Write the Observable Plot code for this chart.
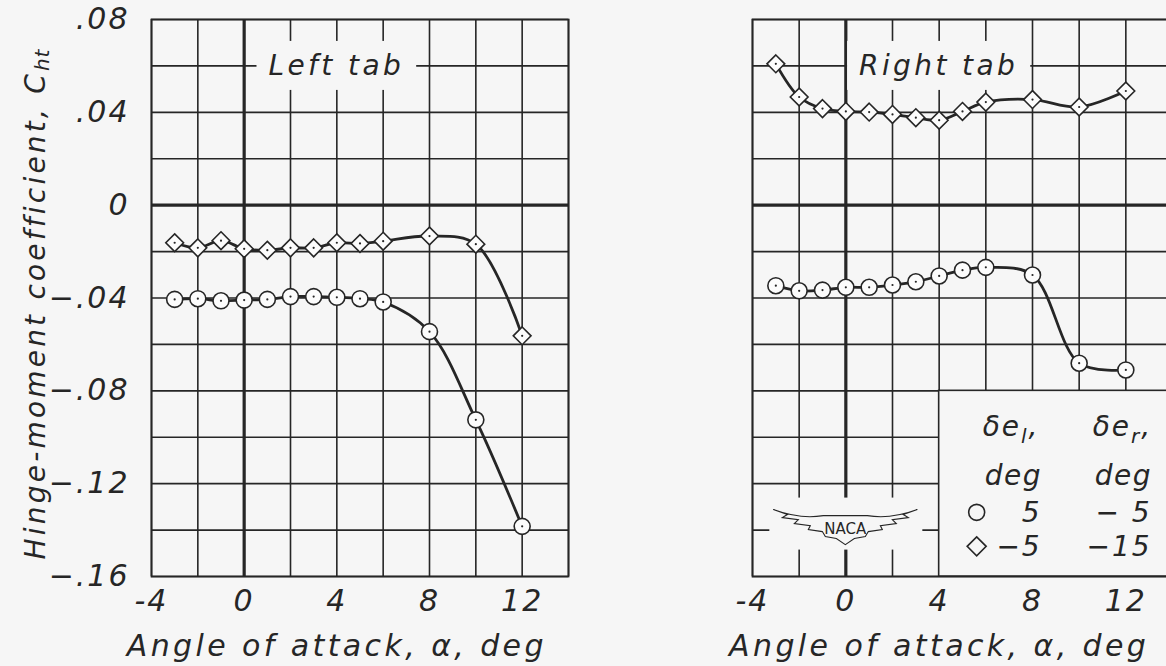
<!DOCTYPE html>
<html><head><meta charset="utf-8">
<script src="https://cdn.jsdelivr.net/npm/d3@7"></script>
<script src="https://cdn.jsdelivr.net/npm/@observablehq/plot@0.6"></script>
<style>
html,body{margin:0;padding:0;background:#f6f6f6;overflow:hidden}
#wrap{position:relative;width:1166px;height:666px;overflow:hidden;background:#f6f6f6}
#left{position:absolute;left:0;top:0;width:600px;height:666px}
#right{position:absolute;left:600px;top:0;width:600px;height:666px}
#left svg,#right svg{max-width:none !important;width:600px;height:666px}
</style></head>
<body><div id="wrap"><div id="left"></div><div id="right"></div></div>
<script>
// ---- data ----
const alphaDeg = [-3, -2, -1, 0, 1, 2, 3, 4, 5, 6, 8, 10, 12];
const leftTabCircle  = [-0.0406, -0.0403, -0.0412, -0.0409, -0.0406, -0.0394, -0.0394, -0.0397, -0.0403, -0.0417, -0.0545, -0.0925, -0.1384];
const leftTabDiamond = [-0.0162, -0.0184, -0.0153, -0.0188, -0.0194, -0.0184, -0.0184, -0.0162, -0.0165, -0.0155, -0.0133, -0.0168, -0.0563];
const rightTabCircle = [-0.0347, -0.0369, -0.0366, -0.0354, -0.0354, -0.0344, -0.0330, -0.0305, -0.0280, -0.0268, -0.0301, -0.0681, -0.0710];
const rightTabDiamond = [0.0609, 0.0466, 0.0416, 0.0404, 0.0401, 0.0391, 0.0377, 0.0366, 0.0404, 0.0444, 0.0455, 0.0423, 0.0492];
const xGridTicks = [-4, -2, 0, 2, 4, 6, 8, 10, 12, 14];
const yGridTicks = [-0.16, -0.14, -0.12, -0.10, -0.08, -0.06, -0.04, -0.02, 0, 0.02, 0.04, 0.06, 0.08];
const xTickLabels = [-4, 0, 4, 8, 12];
const yTickLabels = [-0.16, -0.12, -0.08, -0.04, 0, 0.04, 0.08];
const panelTitles = [{text: "Left tab", alpha: 4, ch: 0.06}, {text: "Right tab", alpha: 4, ch: 0.06}];
const xTitle = "Angle of attack, \u03b1, deg";
const yTitle = "Hinge-moment coefficient, C";
const yTitleSub = "ht";
const legendHeaders = [{sym: "\u03b4e", sub: "l"}, {sym: "\u03b4e", sub: "r"}];
const legendRows = [{shape: "circle", left: "5", right: "\u2212 5"}, {shape: "diamond", left: "\u22125", right: "\u221215"}];

// ---- style ----
const INK = "#262626";
const BG = "#f6f6f6";
const FONT = "'DejaVu Sans', sans-serif";
const NS = "http://www.w3.org/2000/svg";

function rows(ys, shape) { return alphaDeg.map((a, i) => ({alpha: a, ch: ys[i], shape})); }
const fmtY = d => d === 0 ? "0" : (d < 0 ? "\u2212" : "") + Math.abs(d).toFixed(2).replace(/^0/, "");

function makePanel(cfg) {
  const circ = rows(cfg.circle, "circle");
  const diam = rows(cfg.diamond, "diamond");
  const all = circ.concat(diam);
  const marks = [
    Plot.gridX(xGridTicks, {stroke: INK, strokeOpacity: 1, strokeWidth: 1.6}),
    Plot.gridY(yGridTicks, {stroke: INK, strokeOpacity: 1, strokeWidth: 1.6}),
    Plot.ruleX([0], {stroke: INK, strokeWidth: 3.2}),
    Plot.ruleY([0], {stroke: INK, strokeWidth: 3.2}),
    Plot.frame({stroke: INK, strokeWidth: 1.8}),
    Plot.axisX(xTickLabels, {tickSize: 0, tickPadding: 13, tickFormat: d => String(d), fill: INK, label: null}),
    Plot.line(circ, {x: "alpha", y: "ch", curve: "catmull-rom", stroke: INK, strokeWidth: 2.8}),
    Plot.line(diam, {x: "alpha", y: "ch", curve: "catmull-rom", stroke: INK, strokeWidth: 2.8}),
    Plot.dot(circ, {x: "alpha", y: "ch", r: 8, fill: "#fcfcfc", stroke: INK, strokeWidth: 1.6}),
    Plot.dot(diam, {x: "alpha", y: "ch", r: 8, symbol: "diamond2", fill: "#fcfcfc", stroke: INK, strokeWidth: 1.6}),
    Plot.dot(all, {x: "alpha", y: "ch", r: 1.1, fill: INK}),
    Plot.text([xTitle], {x: () => 4, frameAnchor: "bottom", dy: 79, text: d => d, fill: INK, fontSize: 30})
  ];
  if (cfg.yAxis) marks.push(Plot.axisY(yTickLabels, {tickSize: 0, tickPadding: 22, tickFormat: fmtY, fill: INK, label: null}));
  const chart = Plot.plot({
    width: 600, height: 666,
    marginTop: 19, marginBottom: 90, marginLeft: cfg.marginLeft, marginRight: cfg.marginRight,
    style: {background: "transparent", fontFamily: FONT, fontStyle: "italic", fontSize: "30px", color: INK, letterSpacing: "2px"},
    x: {domain: [-4, 14]},
    y: {domain: [-0.16, 0.08], axis: cfg.yAxis ? undefined : null},
    marks
  });
  // wider lettering for the axis title, as in the original hand lettering
  chart.querySelectorAll('g[aria-label="text"] text').forEach(t => t.style.letterSpacing = "3.4px");
  return chart;
}

function el(parent, tag, attrs, text) {
  const e = document.createElementNS(NS, tag);
  for (const k in attrs) e.setAttribute(k, attrs[k]);
  if (text != null) e.textContent = text;
  parent.appendChild(e);
  return e;
}
function scaleFn(chart, name) {
  const s = chart.scale(name);
  return s.apply ? (v => s.apply(v)) : d3.scaleLinear(s.domain, s.range);
}
function panelLabel(svg, sx, sy, lab) {
  const g = el(svg, "g", {});
  const t = el(g, "text", {x: sx(lab.alpha), y: sy(lab.ch), "text-anchor": "middle", "dominant-baseline": "central",
    "font-size": 28, "font-style": "italic", "font-family": FONT, fill: INK, "letter-spacing": "3.4px"}, lab.text);
  const b = t.getBBox();
  const r = document.createElementNS(NS, "rect");
  r.setAttribute("x", b.x - 12); r.setAttribute("y", b.y - 8);
  r.setAttribute("width", b.width + 24); r.setAttribute("height", b.height + 16);
  r.setAttribute("fill", BG);
  g.insertBefore(r, t);
}
function diamondPath(cx, cy, h) { return `M${cx},${cy - h}L${cx + h},${cy}L${cx},${cy + h}L${cx - h},${cy}Z`; }

// ---- left panel ----
const leftChart = makePanel({circle: leftTabCircle, diamond: leftTabDiamond, yAxis: true, marginLeft: 151, marginRight: 32});
document.getElementById("left").appendChild(leftChart);
{
  const sx = scaleFn(leftChart, "x"), sy = scaleFn(leftChart, "y");
  panelLabel(leftChart, sx, sy, panelTitles[0]);
  const t = el(leftChart, "text", {transform: "translate(35,304) rotate(-90)", "text-anchor": "middle", "dominant-baseline": "central",
    "font-size": 28, "font-style": "italic", "font-family": FONT, fill: INK, "letter-spacing": "3.2px"});
  el(t, "tspan", {}, yTitle);
  el(t, "tspan", {dy: 7, "font-size": 20, "letter-spacing": "1px"}, yTitleSub);
}

// ---- right panel ----
const rightChart = makePanel({circle: rightTabCircle, diamond: rightTabDiamond, yAxis: false, marginLeft: 152, marginRight: 28});
document.getElementById("right").appendChild(rightChart);
{
  const sx = scaleFn(rightChart, "x"), sy = scaleFn(rightChart, "y");
  panelLabel(rightChart, sx, sy, panelTitles[1]);
  // legend box occupying the lower-right grid cells
  const ox = sx(4), oy = sy(-0.08);
  const g = el(rightChart, "g", {"font-family": FONT, "font-style": "italic", fill: INK, "font-size": 28, "text-anchor": "start"});
  el(g, "rect", {x: ox, y: oy, width: sx(14) - ox, height: sy(-0.16) - oy, fill: BG, stroke: INK, "stroke-width": 1.6});
  legendHeaders.forEach((h, i) => {
    const x = ox + 44 + i * 110;
    const t = el(g, "text", {x, y: oy + 46, "text-anchor": "start", "letter-spacing": "2px"});
    el(t, "tspan", {}, h.sym);
    el(t, "tspan", {dy: 7, "font-size": 20}, h.sub);
    el(t, "tspan", {dy: -7}, ",");
    el(g, "text", {x: x + 2, y: oy + 95, "text-anchor": "start", "letter-spacing": "1.5px"}, "deg");
  });
  legendRows.forEach((r, i) => {
    const cy = oy + 122 + i * 34;
    if (r.shape === "circle") el(g, "circle", {cx: ox + 38, cy, r: 8, fill: "none", stroke: INK, "stroke-width": 1.6});
    else el(g, "path", {d: diamondPath(ox + 38, cy, 9.5), fill: "none", stroke: INK, "stroke-width": 1.6});
    el(g, "text", {x: ox + 103, y: cy + 10, "text-anchor": "end"}, r.left);
    el(g, "text", {x: ox + 213, y: cy + 10, "text-anchor": "end", "letter-spacing": "2px"}, r.right);
  });
  // NACA emblem
  const cx = sx(0), cy = sy(-0.14) - 3;
  const lg = el(rightChart, "g", {"font-style": "normal"});
  el(lg, "rect", {x: cx - 76, y: cy - 29, width: 153, height: 52, fill: BG});
  const half = [[72,-17],[58,-12],[63,-9],[47,-7],[51,-3],[35,-1],[37,3],[23,5],[20,10],[9,12],[0,18]];
  let d = `M${cx - 72},${cy - 17}Q${cx - 45},${cy - 7} ${cx - 22},${cy - 11}L${cx + 22},${cy - 11}Q${cx + 45},${cy - 7} ${cx + 72},${cy - 17}`;
  half.slice(1).forEach(p => d += `L${cx + p[0]},${cy + p[1]}`);
  half.slice(0, -1).reverse().slice(0, -1).forEach(p => d += `L${cx - p[0]},${cy + p[1]}`);
  d += "Z";
  el(lg, "path", {d, fill: BG, stroke: INK, "stroke-width": 1.1});
  el(lg, "text", {x: cx, y: cy + 2, "text-anchor": "middle", "dominant-baseline": "central", "font-family": FONT,
    "font-style": "normal", "letter-spacing": "0px", "font-size": 15, fill: INK}, "NACA");
}
</script>
</body></html>
